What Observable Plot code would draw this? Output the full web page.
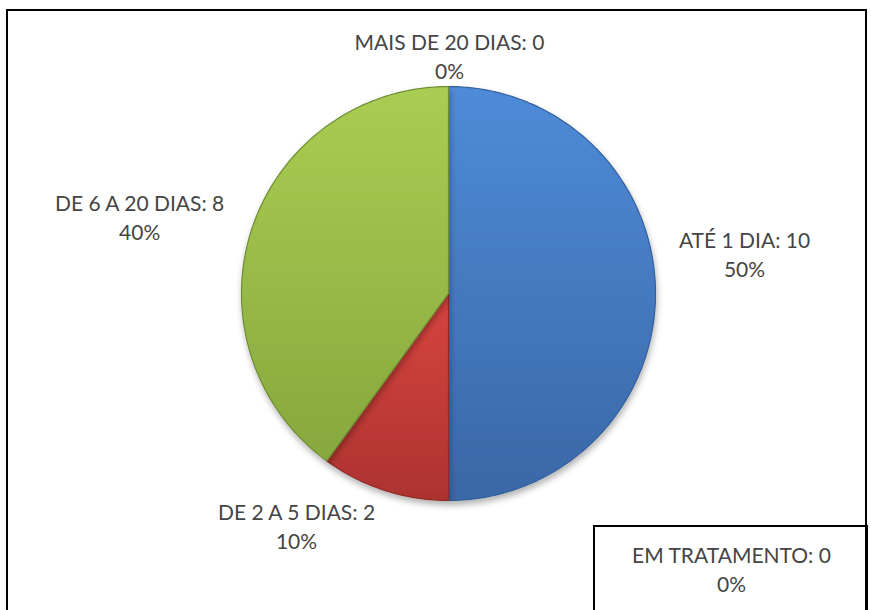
<!DOCTYPE html>
<html><head><meta charset="utf-8">
<script src="https://cdn.jsdelivr.net/npm/d3@7"></script>
<script src="https://cdn.jsdelivr.net/npm/@observablehq/plot@0.6"></script>
<style>
html,body{margin:0;padding:0;background:#fff;}
#chart{width:871px;height:610px;overflow:hidden;}
</style>
</head><body><div id="chart"></div>
<script>
// ---- data ----
const categories = ["ATÉ 1 DIA", "DE 2 A 5 DIAS", "DE 6 A 20 DIAS", "MAIS DE 20 DIAS", "EM TRATAMENTO"];
const values = [10, 2, 8, 0, 0];

// ---- styles / layout ----
const gradTop = ["#4f8bd8", "#d8443f", "#a9cd52", "#8a6fb0", "#52b5d0"];
const gradBot = ["#3a67a6", "#ac332f", "#86a83e", "#6a5490", "#3b93ab"];
const edge    = ["#34609c", "#8e2b28", "#6f8c33", "#594580", "#327e93"];
// label offsets (px) from the rim point at each slice's mid-angle
const labelOffsets = [[89, -40], [-88, 35], [-112, -13], [1, -31], [283, 482]];
const W = 871, H = 610;
const cx = 448, cy = 293, R = 207;

const total = d3.sum(values);
const rows = categories.map((c, i) => ({category: c, value: values[i], i}));
const arcs = d3.pie().sort(null).value(d => d.value)(rows);

const pt = (a, r) => ({x: cx + r * Math.sin(a), y: cy - r * Math.cos(a)});

const sliceMarks = arcs.filter(a => a.value > 0).map(a => {
  const i = a.data.i;
  const n = Math.max(2, Math.ceil((a.endAngle - a.startAngle) / (Math.PI / 180)));
  const pts = [pt(0, 0)];
  for (let k = 0; k <= n; k++) pts.push(pt(a.startAngle + (a.endAngle - a.startAngle) * k / n, R));
  pts.push(pt(0, 0));
  return Plot.line(pts, {x: "x", y: "y", curve: "linear", fill: `url(#g${i})`, stroke: edge[i], strokeWidth: 1.2, strokeLinejoin: "round"});
});

const labels = arcs.map(a => {
  const i = a.data.i;
  const mid = (a.startAngle + a.endAngle) / 2;
  const p = pt(mid, R);
  const pct = total ? Math.round(a.value / total * 100) : 0;
  return {x: p.x + labelOffsets[i][0], y: p.y + labelOffsets[i][1], text: `${a.data.category}: ${a.value}\n${pct}%`};
});

const frames = [
  {x1: 7, x2: 866, y1: 10, y2: 640},
  {x1: 594, x2: 867, y1: 526, y2: 640}
];

const svg = Plot.plot({
  width: W, height: H,
  margin: 0,
  x: {domain: [0, W], range: [0, W], axis: null},
  y: {domain: [0, H], range: [0, H], axis: null},
  style: {background: "#fff", overflow: "hidden"},
  marks: [
    Plot.rect(frames, {x1: "x1", x2: "x2", y1: "y1", y2: "y2", fill: "none", stroke: "#000", strokeWidth: 2}),
    ...sliceMarks,
    Plot.text(labels, {x: "x", y: "y", text: "text", fill: "#454545", fontSize: 21, fontWeight: 400,
      fontFamily: "Lato, 'Open Sans', sans-serif", lineHeight: 1.36, textAnchor: "middle", lineAnchor: "middle"})
  ]
});

const s = d3.select(svg);
const defs = s.insert("defs", ":first-child");
categories.forEach((c, i) => {
  const g = defs.append("linearGradient").attr("id", `g${i}`).attr("x1", 0).attr("y1", 0).attr("x2", 0).attr("y2", 1);
  g.append("stop").attr("offset", "0%").attr("stop-color", gradTop[i]);
  g.append("stop").attr("offset", "100%").attr("stop-color", gradBot[i]);
});
const f = defs.append("filter").attr("id", "shadow").attr("x", "-10%").attr("y", "-10%").attr("width", "120%").attr("height", "125%");
f.append("feDropShadow").attr("dx", 1).attr("dy", 4).attr("stdDeviation", 3).attr("flood-color", "#000").attr("flood-opacity", 0.3);
s.selectAll('g[aria-label="line"]').attr("filter", "url(#shadow)");

document.getElementById("chart").appendChild(svg);
</script>
</body></html>
